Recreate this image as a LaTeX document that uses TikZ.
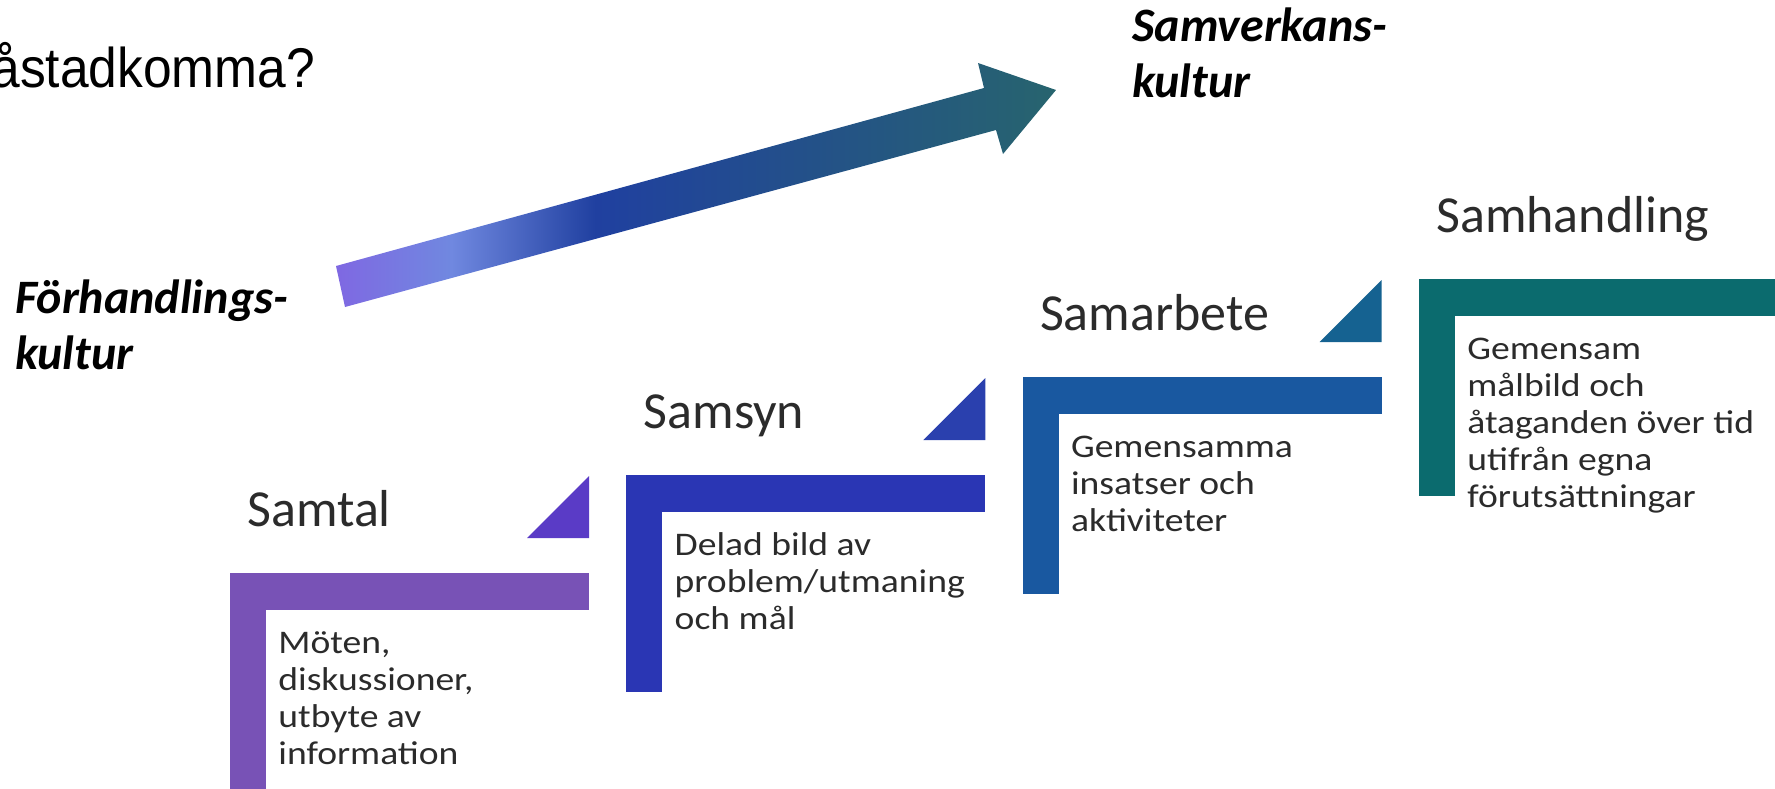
\documentclass[tikz,border=0pt]{standalone}
\usepackage{fontspec}
\setmainfont{Carlito}
\newfontfamily\arialfont[FakeStretch=0.92]{Liberation Sans}
\newfontfamily\bodyfont[FakeStretch=1.14]{Carlito}
\usepackage{tikz}
\usetikzlibrary{calc,positioning}

\definecolor{samtalc}{HTML}{7852B6}
\definecolor{samsync}{HTML}{2A36B4}
\definecolor{samarbc}{HTML}{1958A0}
\definecolor{samhandc}{HTML}{0B6B6E}
\definecolor{tri0}{HTML}{5A3BC6}
\definecolor{tri1}{HTML}{2A40AE}
\definecolor{tri2}{HTML}{156291}
\definecolor{arrA}{HTML}{7F68E2}
\definecolor{arrB}{HTML}{7088E0}
\definecolor{arrC}{HTML}{2040A0}
\definecolor{arrD}{HTML}{27646E}
\definecolor{steptext}{HTML}{2B2B2B}

\pgfdeclarehorizontalshading{cultureshade}{100bp}{color(0bp)=(arrA); color(25bp)=(arrA); color(33bp)=(arrB); color(43bp)=(arrC); color(75bp)=(arrD); color(100bp)=(arrD)}

% base west of a multi-line node sits on its last line
\tikzset{
  steptitle/.style={anchor=base west, inner sep=0pt, text=steptext, font=\fontsize{26}{31}\selectfont},
  stepbody/.style={anchor=base west, inner sep=0pt, align=left, text=steptext, font=\bodyfont\fontsize{16.5}{18.4}\selectfont},
  culture/.style={anchor=base west, inner sep=0pt, align=left, font=\bfseries\itshape\fontsize{24}{28}\selectfont},
}

\begin{document}
\begin{tikzpicture}[x=0.5pt,y=-0.5pt]
\useasboundingbox (0,0) rectangle (1775,788);

% question left over from the slide title
\node[anchor=base west, inner sep=0pt, font=\arialfont\fontsize{28}{34}\selectfont] (Q) at (-9,87) {åstadkomma?};

% the big shaded arrow
\coordinate (A1) at (336,266);
\coordinate (A2) at (345,307);
\coordinate (A3) at (996,130);
\coordinate (A4) at (1003,154);
\coordinate (A5) at (1056,90);
\coordinate (A6) at (978,63);
\coordinate (A7) at (984,88);
\shade[shading=cultureshade] (A1) -- (A2) -- (A3) -- (A4) -- (A5) -- (A6) -- (A7) -- cycle;

\node[culture] (F) at (15,369) {Förhandlings-\\kultur};
\node[culture] (V) at (1132,97) {Samverkans-\\kultur};

% the four steps
\foreach \i/\c in {0/samtalc,1/samsync,2/samarbc,3/samhandc} {
  \coordinate (S\i) at (230+396.3*\i,573-98*\i);
  \fill[\c] (S\i) rectangle ++(359,37);
  \fill[\c] (S\i) rectangle ++(36,217);
}
\foreach \i in {0,1,2} {
  \fill[tri\i] ($(S\i)+(359,-35)$) -- ++(-62,0) -- ++(62,-62) -- cycle;
}

\node[steptitle] (T0) at ($(S0)+(17,-47)$) {Samtal};
\node[steptitle] (T1) at ($(S1)+(17,-47)$) {Samsyn};
\node[steptitle] (T2) at ($(S2)+(17,-47)$) {Samarbete};
\node[steptitle] (T3) at ($(S3)+(17,-47)$) {Samhandling};

\node[stepbody] (B0) at ($(S0)+(48,191)$) {Möten,\\diskussioner,\\utbyte av\\information};
\node[stepbody] (B1) at ($(S1)+(48,154)$) {Delad bild av\\problem/utmaning\\och mål};
\node[stepbody] (B2) at ($(S2)+(48,154)$) {Gemensamma\\insatser och\\aktiviteter};
\node[stepbody] (B3) at ($(S3)+(48,228)$) {Gemensam\\målbild och\\åtaganden över tid\\utifrån egna\\förutsättningar};
\end{tikzpicture}
\end{document}
